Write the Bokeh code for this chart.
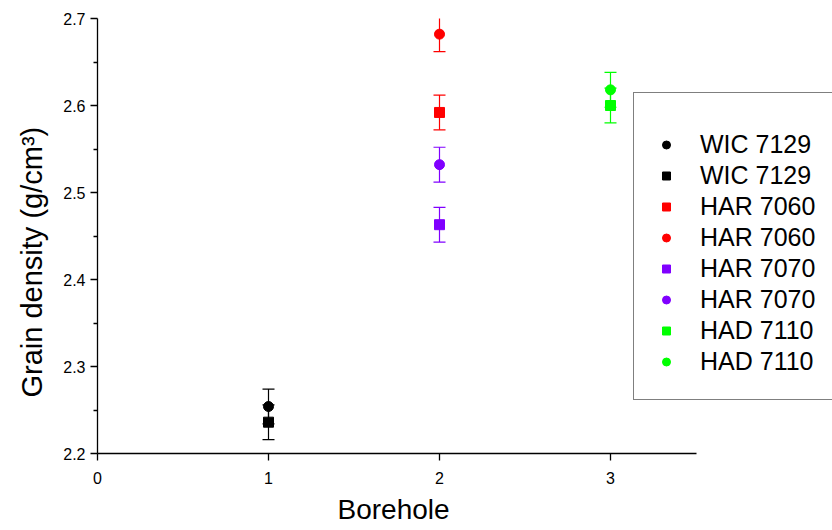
from bokeh.plotting import figure
from bokeh.models import ColumnDataSource, Legend, LegendItem, FixedTicker, Range1d, Title
from bokeh.embed import file_html
from bokeh.resources import INLINE

# Data
labels = ["WIC 7129", "WIC 7129", "HAR 7060", "HAR 7060", "HAR 7070", "HAR 7070", "HAD 7110", "HAD 7110"]
boreholes = [1, 1, 2, 2, 2, 2, 3, 3]
density = [2.254, 2.236, 2.592, 2.682, 2.463, 2.532, 2.600, 2.618]
errors = [0.02, 0.02, 0.02, 0.02, 0.02, 0.02, 0.02, 0.02]
markers = ["circle", "square", "square", "circle", "square", "circle", "square", "circle"]
colors = ["#000000", "#000000", "#FF0000", "#FF0000", "#8000FF", "#8000FF", "#00FF00", "#00FF00"]
x_ticks = [0, 1, 2, 3]
y_ticks = [2.2, 2.3, 2.4, 2.5, 2.6, 2.7]
y_minor_ticks = [2.25, 2.35, 2.45, 2.55, 2.65]

FONT = "Liberation Sans"

# frame extends to the right window edge so the legend can spill out like the reference
p = figure(width=832, height=530, output_backend="svg", toolbar_location=None,
           x_range=Range1d(0, 735 / 171), y_range=Range1d(2.2, 2.7),
           min_border_left=97, min_border_right=0, min_border_top=18, min_border_bottom=77)
p.outline_line_color = None
p.xgrid.grid_line_color = None
p.ygrid.grid_line_color = None
p.background_fill_color = "white"
p.border_fill_color = "white"

items = []
for i in range(len(labels)):
    lo = density[i] - errors[i]
    hi = density[i] + errors[i]
    src = ColumnDataSource(dict(x=[boreholes[i]], y=[density[i]], lo=[lo], hi=[hi]))
    # error bar stem and caps
    p.segment(x0="x", y0="lo", x1="x", y1="hi", source=src, line_color=colors[i], line_width=1.2)
    p.scatter(x="x", y="lo", source=src, marker="dash", size=12, line_color=colors[i], line_width=1.2)
    p.scatter(x="x", y="hi", source=src, marker="dash", size=12, line_color=colors[i], line_width=1.2)
    r = p.scatter("x", "y", source=src, marker=markers[i], size=10,
                  fill_color=colors[i], line_color=colors[i])
    items.append(LegendItem(label=labels[i], renderers=[r]))

legend = Legend(items=items, location=(536, 53), label_text_font=FONT,
                label_text_font_size="25px", label_text_color="black",
                label_height=31, glyph_height=31, label_width=160,
                glyph_width=20, label_standoff=24, spacing=0, padding=22,
                title=" ", title_text_font_size="12px", title_standoff=0,
                border_line_color="black", border_line_width=1,
                background_fill_alpha=1.0, margin=0)
p.add_layout(legend, "center")

for ax in (p.xaxis, p.yaxis):
    ax.axis_line_color = "black"
    ax.axis_line_width = 1.3
    ax.major_tick_line_color = "black"
    ax.major_tick_line_width = 1.3
    ax.major_tick_in = 0
    ax.major_tick_out = 7
    ax.major_label_text_font = FONT
    ax.major_label_text_font_size = "16px"
    ax.major_label_text_color = "black"

p.xaxis.ticker = FixedTicker(ticks=x_ticks)
p.xaxis.bounds = (0, 3.5)
p.xaxis.minor_tick_line_color = None
p.xaxis.major_label_standoff = 11

p.yaxis.ticker = FixedTicker(ticks=y_ticks, minor_ticks=y_minor_ticks)
p.yaxis.bounds = (2.2, 2.7)
p.yaxis.minor_tick_in = 0
p.yaxis.minor_tick_out = 4
p.yaxis.minor_tick_line_color = "black"
p.yaxis.minor_tick_line_width = 1.3

# axis titles placed as in the reference (offset from the frame centre)
xtitle = Title(text="Borehole", align="left", offset=240, text_font=FONT,
               text_font_size="28px", text_font_style="normal", text_color="black",
               standoff=11)
p.add_layout(xtitle, "below")

ytitle = Title(text="Grain density (g/cm³)", align="left", offset=56, text_font=FONT,
               text_font_size="29px", text_font_style="normal", text_color="black",
               standoff=26)
p.add_layout(ytitle, "left")

open("out.html", "w").write(file_html(p, INLINE))
